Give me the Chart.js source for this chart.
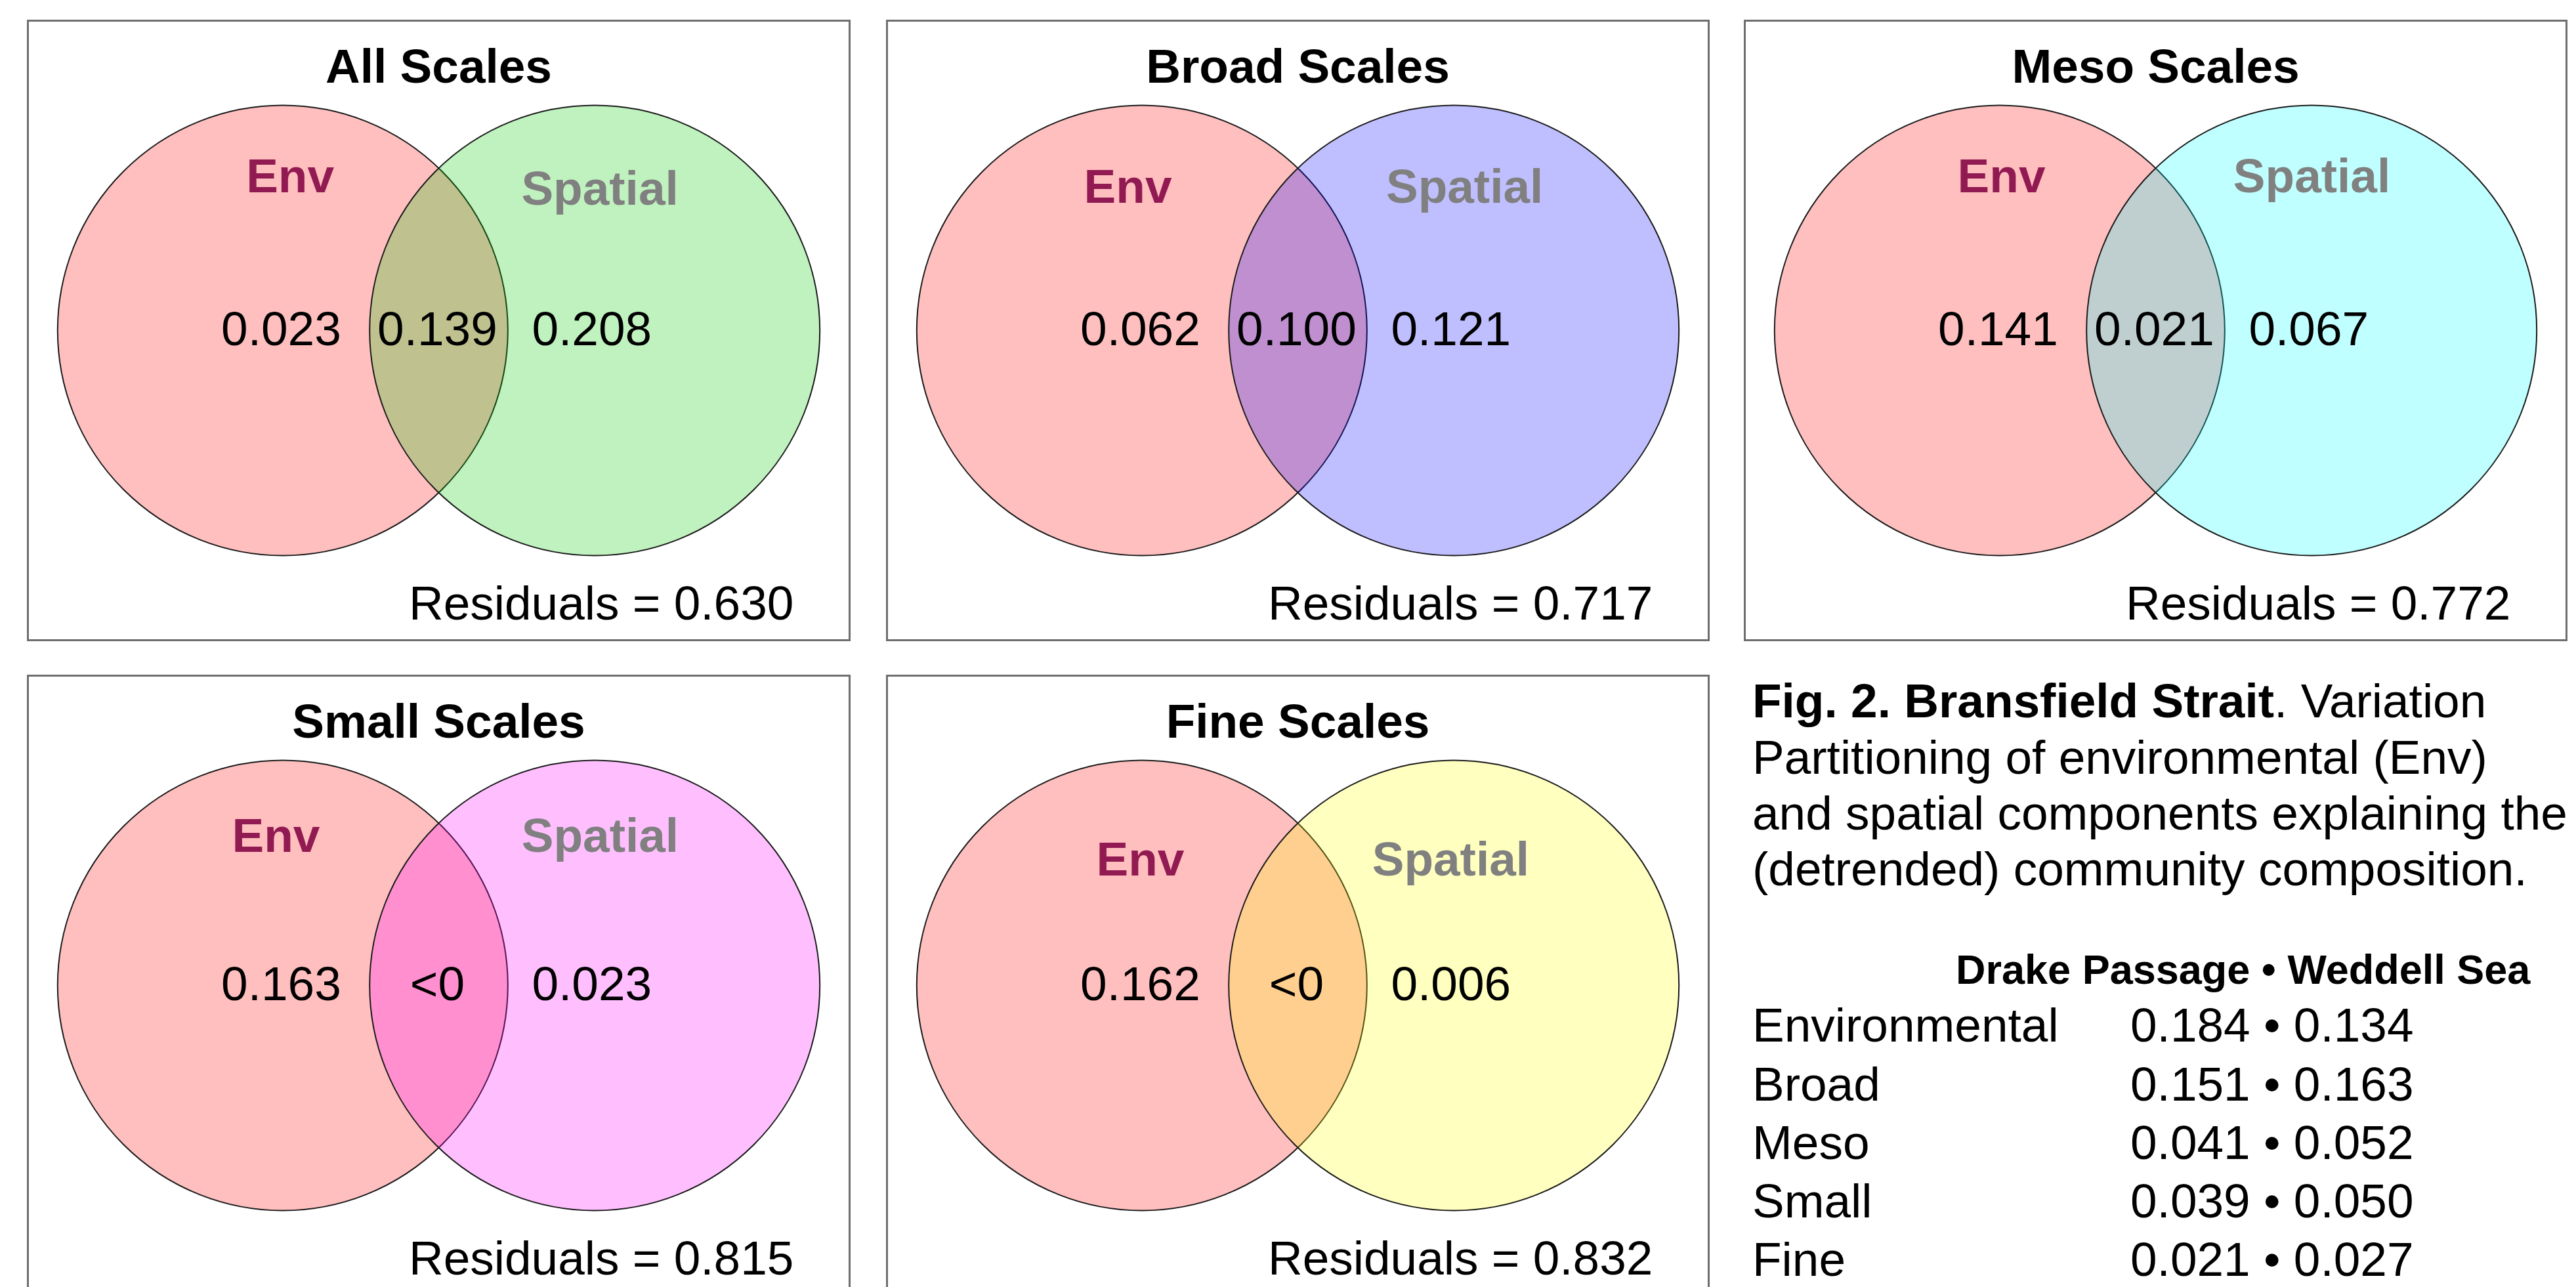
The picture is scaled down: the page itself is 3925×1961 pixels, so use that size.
<!DOCTYPE html>
<html>
<head>
<meta charset="utf-8">
<script src="https://cdn.jsdelivr.net/npm/chart.js@4/dist/chart.umd.min.js"></script>
<style>
html,body{margin:0;padding:0;background:#fff;width:3925px;height:1961px;overflow:hidden;}
.panel{position:absolute;width:1255px;height:947px;}
.panel canvas{position:absolute;left:0;top:0;}
.frame{position:absolute;left:0;top:0;width:1255px;height:947px;border:3px solid #6e6e6e;box-sizing:border-box;pointer-events:none;}
.txt{position:absolute;font-family:"Liberation Sans",Arial,Helvetica,sans-serif;color:#000;white-space:nowrap;line-height:85px;}
</style>
</head>
<body>
<div id="root"></div>
<script>
// ---------------- data ----------------
const panelTitles = ['All Scales', 'Broad Scales', 'Meso Scales', 'Small Scales', 'Fine Scales'];
const envOnly     = [0.023, 0.062, 0.141, 0.163, 0.162];
const shared      = [0.139, 0.100, 0.021, '<0', '<0'];
const spatialOnly = [0.208, 0.121, 0.067, 0.023, 0.006];
const residuals   = [0.630, 0.717, 0.772, 0.815, 0.832];
const circleNames = ['Env', 'Spatial'];
const circleX = [-0.693, 0.693];   // circle centres, in circle-radius units
const circleY = [0, 0];
const circleR = [1, 1];

const tableRowLabels = ['Environmental', 'Broad', 'Meso', 'Small', 'Fine'];
const drakePassage   = [0.184, 0.151, 0.041, 0.039, 0.021];
const weddellSea     = [0.134, 0.163, 0.052, 0.050, 0.027];
const tableHeader    = 'Drake Passage \u2022 Weddell Sea';

// ---------------- layout & style ----------------
const FONT = '"Liberation Sans", Arial, Helvetica, sans-serif';
const PX = 343;                 // pixels per radius unit
const W = 1255, H = 947, CY = 473.5;
const TITLE_SIZE = 73, TITLE_PAD = 32;
const TEXT = 73;
const titleBlock = TITLE_PAD + TITLE_SIZE * 1.2;
const panelLeft = [41, 1350, 2657, 41, 1350];
const panelTop  = [30, 30, 30, 1028, 1028];
const envFill = 'rgba(255,0,0,0.25)';
const spatialFill = ['rgba(0,205,0,0.25)', 'rgba(0,0,255,0.25)', 'rgba(0,255,255,0.25)', 'rgba(255,0,255,0.25)', 'rgba(255,255,0,0.25)'];
const envColor = '#921a52', spatialColor = '#808080';
// name label anchors (x centre, y baseline) in radius units
const namePos = [
  {env: [-0.660, 0.614], sp: [0.716, 0.558]},
  {env: [-0.755, 0.567], sp: [0.741, 0.567]},
  {env: [-0.685, 0.614], sp: [0.694, 0.614]},
  {env: [-0.723, 0.593], sp: [0.717, 0.593]},
  {env: [-0.700, 0.488], sp: [0.679, 0.488]}
];
const numberX = [-0.700, -0.006, 0.680];
const numberY = -0.0656;
const residualX = 1.577, residualY = -1.2828;

const fmt = v => typeof v === 'number' ? v.toFixed(3) : v;

const vennLabels = {
  id: 'vennLabels',
  afterDatasetsDraw(chart, args, opts) {
    const {ctx} = chart;
    const xs = chart.scales.x, ys = chart.scales.y;
    const p = opts.panel;
    const px = v => xs.getPixelForValue(v), py = v => ys.getPixelForValue(v);
    ctx.save();
    ctx.textBaseline = 'alphabetic';
    ctx.textAlign = 'center';
    ctx.font = `bold ${TEXT}px ${FONT}`;
    ctx.fillStyle = envColor;
    ctx.fillText(circleNames[0], px(namePos[p].env[0]), py(namePos[p].env[1]));
    ctx.fillStyle = spatialColor;
    ctx.fillText(circleNames[1], px(namePos[p].sp[0]), py(namePos[p].sp[1]));
    ctx.font = `${TEXT}px ${FONT}`;
    ctx.fillStyle = '#000';
    const vals = [envOnly[p], shared[p], spatialOnly[p]];
    vals.forEach((v, k) => ctx.fillText(fmt(v), px(numberX[k]), py(numberY)));
    ctx.textAlign = 'right';
    ctx.fillText('Residuals = ' + fmt(residuals[p]), px(residualX), py(residualY));
    ctx.restore();
  }
};

const root = document.getElementById('root');
panelTitles.forEach((title, p) => {
  const div = document.createElement('div');
  div.className = 'panel';
  div.style.left = panelLeft[p] + 'px';
  div.style.top = panelTop[p] + 'px';
  const cv = document.createElement('canvas');
  cv.width = W; cv.height = H;
  cv.style.width = W + 'px'; cv.style.height = H + 'px';
  div.appendChild(cv);
  const frame = document.createElement('div');
  frame.className = 'frame';
  div.appendChild(frame);
  root.appendChild(div);

  // radius of each circle converted to pixels through the x scale
  const radiusFor = k => ctx => {
    const s = ctx.chart.scales.x;
    const r = Math.abs(s.getPixelForValue(circleR[k]) - s.getPixelForValue(0));
    return isFinite(r) ? r : 0;
  };

  new Chart(cv, {
    type: 'scatter',
    data: {
      datasets: circleNames.map((name, k) => ({
        label: name,
        data: [{x: circleX[k], y: circleY[k]}],
        showLine: false,
        pointStyle: 'circle',
        pointBackgroundColor: k === 0 ? envFill : spatialFill[p],
        pointBorderColor: '#1a1a1a',
        pointBorderWidth: 2,
        pointRadius: radiusFor(k),
        pointHoverRadius: radiusFor(k),
        order: k === 0 ? 2 : 1,
        clip: false
      }))
    },
    options: {
      responsive: false,
      devicePixelRatio: 1,
      animation: false,
      events: [],
      layout: {padding: 0},
      scales: {
        x: {type: 'linear', display: false, min: -W / 2 / PX, max: W / 2 / PX},
        y: {type: 'linear', display: false, min: -(H - CY) / PX, max: (CY - titleBlock) / PX}
      },
      plugins: {
        legend: {display: false},
        tooltip: {enabled: false},
        title: {
          display: true, text: title, color: '#000',
          font: {family: FONT, size: TITLE_SIZE, weight: 'bold', lineHeight: 1.2},
          padding: {top: TITLE_PAD, bottom: 0}
        },
        vennLabels: {panel: p}
      }
    },
    plugins: [vennLabels]
  });
});

// ---------------- caption & table ----------------
function addText(html, left, baseline, size, bold) {
  const d = document.createElement('div');
  d.className = 'txt';
  d.style.left = left + 'px';
  d.style.fontSize = size + 'px';
  if (bold) d.style.fontWeight = 'bold';
  const off = (85 - 1.117 * size) / 2 + 0.905 * size;
  d.style.top = (baseline - off) + 'px';
  d.innerHTML = html;
  root.appendChild(d);
}
const captionLines = [
  '<b>Fig. 2. Bransfield Strait</b>. Variation',
  'Partitioning of environmental (Env)',
  'and spatial components explaining the',
  '(detrended) community composition.'
];
captionLines.forEach((t, i) => addText(t, 2670, 1093 + i * 85.3, 73, false));
addText(tableHeader, 2980, 1499, 63, true);
tableRowLabels.forEach((lab, i) => {
  const base = 1587 + i * 89.3;
  addText(lab, 2670, base, 73, false);
  addText(fmt(drakePassage[i]) + ' \u2022 ' + fmt(weddellSea[i]), 3246, base, 73, false);
});
</script>
</body>
</html>
